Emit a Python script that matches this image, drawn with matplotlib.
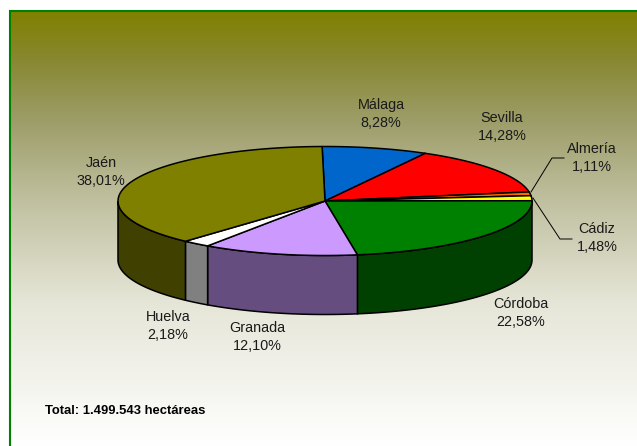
import numpy as np
import matplotlib
matplotlib.use("Agg")
import matplotlib.pyplot as plt
from matplotlib.patches import Polygon

plt.rcParams['font.family'] = ['Liberation Sans', 'DejaVu Sans']

names = ["Málaga", "Sevilla", "Almería", "Cádiz", "Córdoba", "Granada", "Huelva", "Jaén"]
values = [8.28, 14.28, 1.11, 1.48, 22.58, 12.10, 2.18, 38.01]
top_colors = ["#0066CC", "#FF0000", "#FF6600", "#FFFF00", "#008000", "#CC99FF", "#FFFFFF", "#808000"]
side_colors = ["#003366", "#800000", "#803300", "#808000", "#004000", "#664D80", "#808080", "#404000"]
label_pos = [(381, 114), (502, 127), (592, 158), (597, 238), (521, 313), (257, 337), (168, 326), (101, 172)]
total_text = "Total: 1.499.543 hectáreas"

cx, cy, rx, ry, depth = 325, 201, 207, 54.5, 59
start = -0.8

fig = plt.figure(figsize=(6.37, 4.46), dpi=100)
ax = fig.add_axes([0, 0, 1, 1])
ax.axis("off")

# background gradient, greys out faster than a straight olive to white
ys = np.arange(11, 446)
stop_y = [11, 60, 120, 200, 300, 446]
stop_rg = [128, 136, 157, 192, 229, 255]
stop_b = [0, 50, 105, 160, 215, 255]
rg = np.interp(ys, stop_y, stop_rg) / 255
b = np.interp(ys, stop_y, stop_b) / 255
grad = np.dstack([rg, rg, b]).reshape(-1, 1, 3)
ax.imshow(grad, extent=(10, 637, 446, 11), aspect="auto", zorder=0)
ax.set_xlim(0, 637)
ax.set_ylim(446, 0)

# frame only on left and top
ax.plot([10, 10, 637], [446, 11, 11], color="#008000", lw=1.5, zorder=1, solid_joinstyle="miter")


def rim(a, b, n=60):
    t = np.radians(np.linspace(a, b, n))
    return cx + rx * np.sin(t), cy - ry * np.cos(t)


angles = start + np.cumsum([0] + values) * 360 / sum(values)

# sides, only the front half shows
for i in range(len(values)):
    a = max(angles[i], 90)
    b_ = min(angles[i + 1], 270)
    if b_ <= a:
        continue
    x, y = rim(a, b_)
    pts = np.r_[np.c_[x, y], np.c_[x[::-1], y[::-1] + depth]]
    ax.add_patch(Polygon(pts, fc=side_colors[i], ec="black", lw=1.1, zorder=2))

# top slices
for i in range(len(values)):
    x, y = rim(angles[i], angles[i + 1])
    pts = np.r_[[[cx, cy]], np.c_[x, y]]
    ax.add_patch(Polygon(pts, fc=top_colors[i], ec="black", lw=1.1, zorder=3, joinstyle="round"))

# labels
for name, v, pos in zip(names, values, label_pos):
    s = name + "\n" + f"{v:.2f}".replace(".", ",") + "%"
    ax.text(pos[0], pos[1], s, ha="center", va="center", fontsize=10.4, color="#1a1a1a",
            linespacing=1.45, zorder=5)

# leader lines for the two thin slices
ax.plot([531, 552, 564], [192, 158, 158], color="black", lw=0.7, zorder=4)
ax.plot([533, 560, 572], [198, 239, 239], color="black", lw=0.7, zorder=4)

ax.text(45, 411, total_text, ha="left", va="center", fontsize=9.4, fontweight="bold", color="black", zorder=5)

fig.savefig("out.png", dpi=100)
